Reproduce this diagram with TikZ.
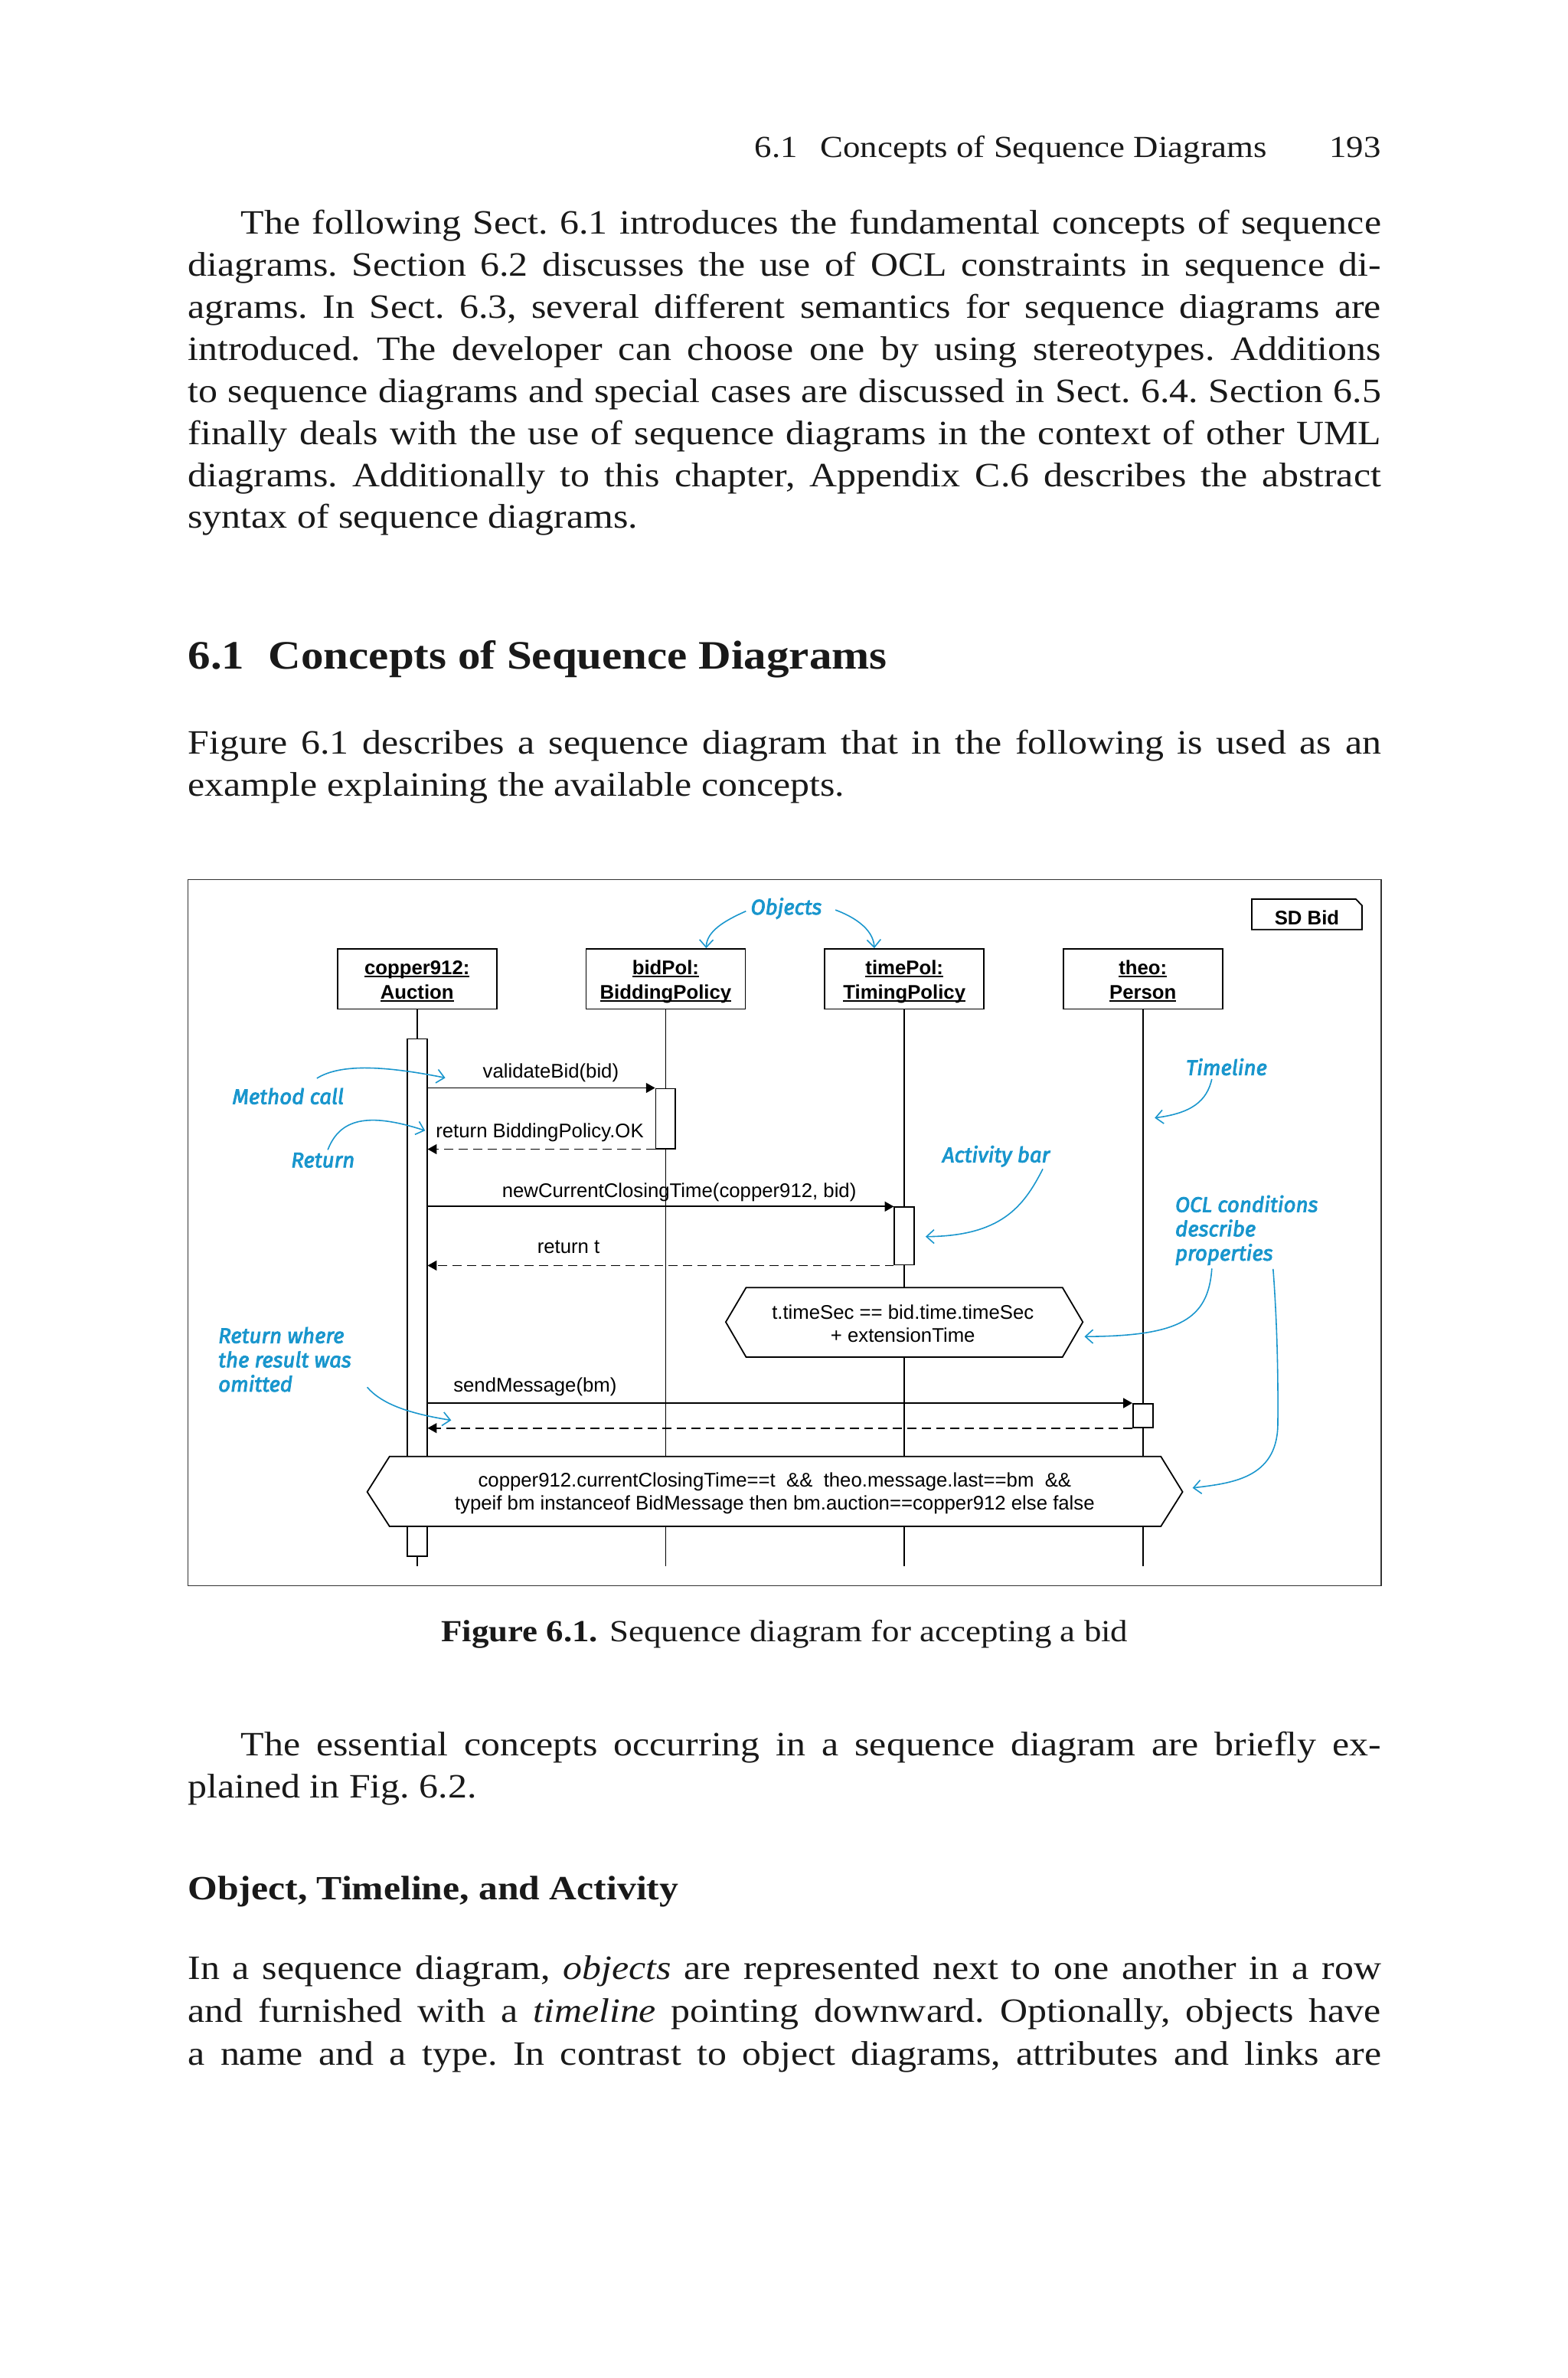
\documentclass[tikz,border=0pt]{standalone}
\usepackage{fontspec}
\usetikzlibrary{arrows.meta}
\setmainfont{Liberation Serif}[FakeStretch=1.12]
\newfontfamily\diagfont{Liberation Sans}
\newfontfamily\annfont{Fira Sans}[ItalicFeatures={FakeBold=3}]
\definecolor{annblue}{RGB}{25,150,205}
\definecolor{ink}{RGB}{25,25,25}
\newcommand{\jl}[2]{\makebox[#1pt][s]{#2}}
\newcommand{\ulx}[1]{\setbox0\hbox{#1}\rlap{\rule[-1.8pt]{\wd0}{0.9pt}}\box0}
\newcommand{\objtext}[2]{\raisebox{-2pt}[\height][\depth]{\begin{tabular}{@{}c@{}}\ulx{#1}\\\ulx{#2}\end{tabular}}}
\begin{document}
\begin{tikzpicture}[x=1pt,y=-1pt,
  txt/.style={anchor=base west, inner sep=0pt, outer sep=0pt, text=ink, font=\fontsize{22.5}{27.7}\selectfont\frenchspacing},
  hdr/.style={anchor=base east, inner sep=0pt, text=ink, font=\fontsize{20.2}{24}\selectfont},
  obj/.style={draw, fill=white, minimum width=105pt, minimum height=39.6pt, inner sep=0pt, line width=0.9pt,
    font=\diagfont\bfseries\fontsize{13}{16}\selectfont},
  bar/.style={draw, fill=white, inner sep=0pt, minimum width=13pt, line width=0.9pt},
  life/.style={line width=0.9pt},
  msg/.style={line width=0.9pt, -{Triangle[length=6pt,width=6.5pt]}},
  retmsg/.style={line width=0.9pt, dash pattern=on 6pt off 3.5pt, -{Triangle[length=6pt,width=6.5pt]}},
  lab/.style={inner sep=0pt, font=\diagfont\fontsize{13}{15.5}\selectfont},
  hexa/.style={draw, fill=white, line width=0.9pt},
  ann/.style={inner sep=0pt, text=annblue, font=\annfont\itshape\fontsize{14}{16}\selectfont},
  aarrow/.style={draw=annblue, line width=0.8pt, -{Straight Barb[length=5pt,width=9pt]}}
]
\useasboundingbox[fill=white] (0,0) rectangle (1034,1568);

% ---------- running head ----------
\node[hdr] (hd) at (836,103.8) {6.1\hspace{0.75em}Concepts of Sequence Diagrams};
\node[hdr] (pg) at (911,103.8) {193};

% ---------- paragraph 1 ----------
\node[txt] (p1a) at (159,154.5) {\jl{752}{The following Sect. 6.1 introduces the fundamental concepts of sequence}};
\node[txt] (p1b) at (124,182.2) {\jl{787}{diagrams. Section 6.2 discusses the use of OCL constraints in sequence di-}};
\node[txt] (p1c) at (124,209.9) {\jl{787}{agrams. In Sect. 6.3, several different semantics for sequence diagrams are}};
\node[txt] (p1d) at (124,237.6) {\jl{787}{introduced. The developer can choose one by using stereotypes. Additions}};
\node[txt] (p1e) at (124,265.3) {\jl{787}{to sequence diagrams and special cases are discussed in Sect. 6.4. Section 6.5}};
\node[txt] (p1f) at (124,293.0) {\jl{787}{finally deals with the use of sequence diagrams in the context of other UML}};
\node[txt] (p1g) at (124,320.7) {\jl{787}{diagrams. Additionally to this chapter, Appendix C.6 describes the abstract}};
\node[txt] (p1h) at (124,348.4) {syntax of sequence diagrams.};

% ---------- section heading ----------
\node[txt, font=\bfseries\fontsize{26.6}{30}\selectfont] (h1) at (124,441.3) {6.1\hspace{0.6em}Concepts of Sequence Diagrams};

% ---------- paragraph 2 ----------
\node[txt] (p2a) at (124,497.3) {\jl{787}{Figure 6.1 describes a sequence diagram that in the following is used as an}};
\node[txt] (p2b) at (124,525.1) {example explaining the available concepts.};

% ---------- figure ----------
\node[draw=black!80, line width=0.8pt, minimum width=787pt, minimum height=465.6pt, inner sep=0pt] (frame) at (517.5,812.8) {};

% SD Bid tag
\draw[line width=0.9pt, fill=white] (825.7,592.9) -- (894.3,592.9) -- (898.3,597) -- (898.3,612.9) -- (825.7,612.9) -- cycle;
\node[lab, font=\diagfont\bfseries\fontsize{13}{15}\selectfont] (sd) at (862,605) {SD Bid};

% objects
\node[obj] (cop) at (275.1,645.5) {\objtext{copper912:}{Auction}};
\node[obj] (bid) at (439.05,645.5) {\objtext{bidPol:}{BiddingPolicy}};
\node[obj] (tim) at (596.5,645.5) {\objtext{timePol:}{TimingPolicy}};
\node[obj] (theo) at (753.85,645.5) {\objtext{theo:}{Person}};

% lifeline ends
\coordinate (cend) at (275.1,1032.5);
\coordinate (bend) at (439.05,1032.5);
\coordinate (tend) at (596.5,1032.5);
\coordinate (pend) at (753.85,1032.5);

\draw[life] (cop.south) -- (cend);
\draw[life] (bid.south) -- (bend);
\draw[life] (tim.south) -- (tend);
\draw[life] (theo.south) -- (pend);

% activation bars
\node[bar, minimum height=341.1pt] (cbar) at (275.1,855.55) {};
\node[bar, minimum height=39.5pt] (bbar) at (439.05,737.55) {};
\node[bar, minimum height=38pt] (tbar) at (596.5,815) {};
\node[bar, minimum height=15.6pt] (pbar) at (753.85,933.4) {};

% messages
\draw[msg] (cbar.east |- bbar.north) -- (bbar.north west);
\node[lab, anchor=base] (m1) at (363.3,711) {validateBid(bid)};
\draw[retmsg] (bbar.south west) -- (cbar.east |- bbar.south);
\node[lab, anchor=base west] (m2) at (287.3,750) {return BiddingPolicy.OK};
\draw[msg] (cbar.east |- tbar.north) -- (tbar.north west);
\node[lab, anchor=base] (m3) at (448,789.5) {newCurrentClosingTime(copper912, bid)};
\draw[retmsg] (tbar.south west) -- (cbar.east |- tbar.south);
\node[lab, anchor=base] (m4) at (375,826.5) {return t};
\draw[msg] (cbar.east |- pbar.north) -- (pbar.north west);
\node[lab, anchor=base west] (m5) at (298.9,918) {sendMessage(bm)};
\draw[retmsg] (pbar.south west) -- (cbar.east |- pbar.south);

% OCL conditions
\draw[hexa] (478.7,871.7) -- (492.1,849) -- (700.8,849) -- (714.2,871.7) -- (700.8,894.8) -- (492.1,894.8) -- cycle;
\node[lab, align=center] (c1) at (595.5,872.8) {t.timeSec == bid.time.timeSec\\+ extensionTime};
\draw[hexa] (242.2,983.7) -- (256.9,960.4) -- (765.7,960.4) -- (780,983.7) -- (765.7,1006.4) -- (256.9,1006.4) -- cycle;
\node[lab, align=center] (c2) at (511,984.6) {copper912.currentClosingTime==t\ \ \&\&\ \ theo.message.last==bm\ \ \&\&\\typeif bm instanceof BidMessage then bm.auction==copper912 else false};

% annotations
\node[ann] (aobj) at (518.6,599) {Objects};
\node[ann] (ameth) at (190,722.8) {Method call};
\node[ann] (aret) at (213,765) {Return};
\node[ann] (atl) at (809,703.5) {Timeline};
\node[ann] (aact) at (657,762.4) {Activity bar};
\node[ann, anchor=west, align=left] (aocl) at (775,811.2) {OCL conditions\\describe\\properties};
\node[ann, anchor=west, align=left] (arwo) at (143.8,896.4) {Return where\\the result was\\omitted};

\coordinate (e1) at (465.8,625.2);
\coordinate (e2) at (576.7,625.2);
\coordinate (e3) at (293.7,710.7);
\coordinate (e4) at (280.4,745.5);
\coordinate (e5) at (761.6,737.1);
\coordinate (e6) at (610.5,815.4);
\coordinate (e7) at (715.3,881.3);
\coordinate (e8) at (786.6,981.1);
\coordinate (e9) at (297.6,936.5);

\draw[aarrow] (492,600.8) .. controls (478,607) and (466,614) .. (e1);
\draw[aarrow] (551,600) .. controls (562,604) and (576,612) .. (e2);
\draw[aarrow] (209,711) .. controls (225,701) and (255,703) .. (e3);
\draw[aarrow] (216.2,758.2) .. controls (224,738) and (242,733) .. (e4);
\draw[aarrow] (799.3,711.5) .. controls (796,726) and (786,734) .. (e5);
\draw[aarrow] (687.8,770.8) .. controls (675,796) and (660,815) .. (e6);
\draw[aarrow] (799.3,836.4) .. controls (797,870) and (778,881) .. (e7);
\draw[aarrow] (839.7,836.7) .. controls (843,880) and (843,920) .. (842.8,940) .. controls (842,975) and (812,978) .. (e8);
\draw[aarrow] (242.2,914.7) .. controls (252,926) and (270,932) .. (e9);

% ---------- caption ----------
\node[txt, anchor=base, font=\fontsize{20.25}{24}\selectfont] (cap) at (517.5,1082.2) {\textbf{Figure 6.1.} Sequence diagram for accepting a bid};

% ---------- paragraph 3 ----------
\node[txt] (p3a) at (159,1157.6) {\jl{752}{The essential concepts occurring in a sequence diagram are briefly ex-}};
\node[txt] (p3b) at (124,1185.4) {plained in Fig. 6.2.};

% ---------- subheading ----------
\node[txt, font=\bfseries\fontsize{22.4}{27.7}\selectfont] (h2) at (124,1252.6) {Object, Timeline, and Activity};

% ---------- paragraph 4 ----------
\node[txt] (p4a) at (124,1305) {\jl{787}{In a sequence diagram, \textit{objects} are represented next to one another in a row}};
\node[txt] (p4b) at (124,1333.3) {\jl{787}{and furnished with a \textit{timeline} pointing downward. Optionally, objects have}};
\node[txt] (p4c) at (124,1361.6) {\jl{787}{a name and a type. In contrast to object diagrams, attributes and links are}};
\end{tikzpicture}
\end{document}
